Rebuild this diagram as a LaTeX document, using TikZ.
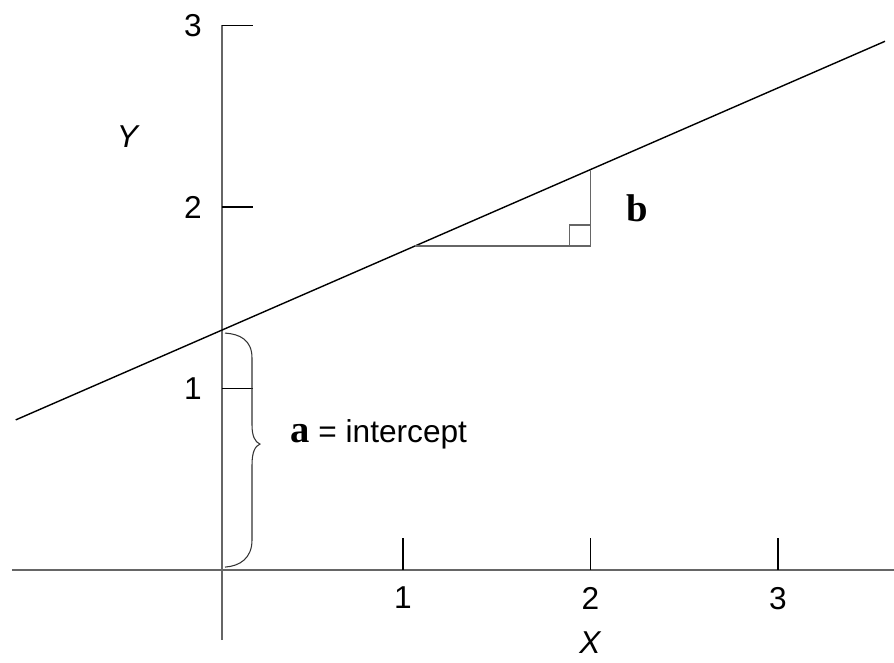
\documentclass[tikz,border=0pt]{standalone}
\usepackage{fontspec}
\setmainfont{Liberation Sans}
\newfontfamily\boldserif{Liberation Serif}
\usetikzlibrary{positioning, calc}
\newcommand{\coef}[1]{{\boldserif\fontsize{22}{24}\selectfont\bfseries #1}}

\begin{document}
\begin{tikzpicture}[x=3.75cm, y=3.63cm, font=\fontsize{18}{21}\selectfont,
    axis/.style={black!60, line width=1pt},
    tick/.style={black, line width=0.8pt},
    fitline/.style={black, line width=0.8pt},
    slope/.style={black!60, line width=0.8pt}]
  \useasboundingbox (-1.184,-0.507) rectangle (3.584,3.1405);

  % axes
  \coordinate (o) at (0,0);
  \coordinate (xleft) at (-1.12,0);
  \coordinate (xright) at (3.584,0);
  \coordinate (ybot) at (0,-0.386);
  \coordinate (ytop) at (0,3);
  \draw[axis] (xleft) -- (xright);
  \draw[axis] (ybot) -- (ytop);

  % ticks
  \foreach \i in {1,2,3} {
    \coordinate (xt\i) at (\i-0.035,0);
    \coordinate (yt\i) at (0,\i);
    \draw[tick] (xt\i) -- ++(0,0.64cm);
    \draw[tick] (yt\i) -- ++(0.62cm,0);
    \node[below=0.22cm of xt\i] (xn\i) {\i};
    \node[left=0.28cm of yt\i] (yn\i) {\i};
  }
  \node[below=0.2cm of xn2] (xlab) {\textit{X}};
  \node (ylab) at (-0.5,2.39) {\textit{Y}};

  % fitted line
  \coordinate (a) at (0,1.322);
  \coordinate (lstart) at (-1.10,0.827);
  \coordinate (lend) at (3.536,2.913);
  \draw[fitline] (lstart) -- (lend);

  % slope triangle
  \coordinate (p) at (1.029,1.785);
  \coordinate (q) at (1.965,1.785);
  \coordinate (r) at (1.965,2.206);
  \draw[slope] (p) -- (q) -- (r);
  \draw[slope] ($(q)+(-0.42cm,0)$) -- ++(0,0.42cm) -- ++(0.42cm,0);
  \coordinate (qr) at ($(q)!0.5!(r)$);
  \node[right=0.72cm of qr, inner sep=0] (b) {\coef{b}};

  % intercept brace
  \begin{scope}[shift={(a)}, x=0.02cm, y=-0.02cm]
    \draw[black!80, line width=0.6pt] (3,3) .. controls (18,4) and (30,10) .. (30,28)
      -- (30,95) .. controls (30,106) and (33,112) .. (38,114)
      .. controls (33,116) and (30,122) .. (30,135)
      -- (30,210) .. controls (30,228) and (18,236) .. (3,237);
    \coordinate (tip) at (38,114);
  \end{scope}
  \node[right=0.6cm of tip, yshift=0.2cm, inner sep=0] (alab) {\coef{a} = intercept};
\end{tikzpicture}
\end{document}
